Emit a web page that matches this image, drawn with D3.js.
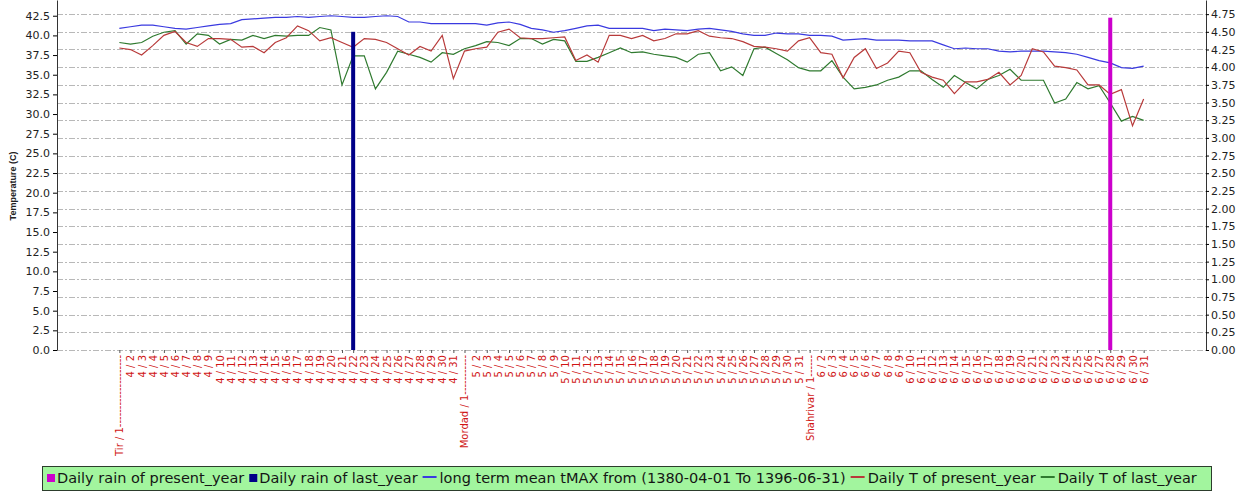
<!DOCTYPE html>
<html>
<head>
<meta charset="utf-8">
<script src="https://cdn.jsdelivr.net/npm/d3@7/dist/d3.min.js"></script>
<style>
body { margin: 0; background: #fff; }
svg { display: block; font-family: "DejaVu Sans", sans-serif; }
</style>
</head>
<body>
<div id="chart"></div>
<script>
// Categories: days of Tir, Mordad, Shahrivar
var dates = [
    "Tir / 1", "4 / 2", "4 / 3", "4 / 4", "4 / 5", "4 / 6", "4 / 7", "4 / 8", "4 / 9", "4 / 10",
    "4 / 11", "4 / 12", "4 / 13", "4 / 14", "4 / 15", "4 / 16", "4 / 17", "4 / 18", "4 / 19", "4 / 20",
    "4 / 21", "4 / 22", "4 / 23", "4 / 24", "4 / 25", "4 / 26", "4 / 27", "4 / 28", "4 / 29", "4 / 30", "4 / 31",
    "Mordad / 1", "5 / 2", "5 / 3", "5 / 4", "5 / 5", "5 / 6", "5 / 7", "5 / 8", "5 / 9", "5 / 10",
    "5 / 11", "5 / 12", "5 / 13", "5 / 14", "5 / 15", "5 / 16", "5 / 17", "5 / 18", "5 / 19", "5 / 20",
    "5 / 21", "5 / 22", "5 / 23", "5 / 24", "5 / 25", "5 / 26", "5 / 27", "5 / 28", "5 / 29", "5 / 30", "5 / 31",
    "Shahrivar / 1", "6 / 2", "6 / 3", "6 / 4", "6 / 5", "6 / 6", "6 / 7", "6 / 8", "6 / 9", "6 / 10",
    "6 / 11", "6 / 12", "6 / 13", "6 / 14", "6 / 15", "6 / 16", "6 / 17", "6 / 18", "6 / 19", "6 / 20",
    "6 / 21", "6 / 22", "6 / 23", "6 / 24", "6 / 25", "6 / 26", "6 / 27", "6 / 28", "6 / 29", "6 / 30", "6 / 31"
];

// dashes that trail the month-start labels
var monthDashes = { "Tir / 1": 20, "Mordad / 1": 11, "Shahrivar / 1": 6 };

// long term mean tMAX (1380-04-01 To 1396-06-31)
var longTermMax = [
    40.9, 41.1, 41.3, 41.3, 41.1, 40.9, 40.8, 41.0, 41.2, 41.4, 41.5, 42.0, 42.1, 42.2, 42.3, 42.3,
    42.4, 42.3, 42.4, 42.5, 42.4, 42.3, 42.3, 42.4, 42.5, 42.4, 41.7, 41.7, 41.5, 41.5, 41.5,
    41.5, 41.5, 41.3, 41.6, 41.7, 41.4, 40.9, 40.7, 40.4, 40.6, 40.9, 41.2, 41.3, 40.9, 40.9,
    40.9, 40.9, 40.6, 40.8, 40.7, 40.6, 40.8, 40.9, 40.7, 40.5, 40.2, 40.0, 40.0, 40.3, 40.2,
    40.2, 40.0, 40.0, 39.9, 39.4, 39.5, 39.6, 39.4, 39.4, 39.4, 39.3, 39.3, 39.3, 38.8, 38.3,
    38.4, 38.3, 38.3, 38.0, 37.9, 38.0, 38.0, 38.0, 37.9, 37.8, 37.6, 37.2, 36.8, 36.5, 35.9, 35.8, 36.1
];

// Daily T of present_year
var tPresent = [
    38.4, 38.2, 37.5, 38.7, 40.0, 40.5, 39.1, 38.6, 39.6, 39.6, 39.5, 38.5, 38.6, 37.8, 39.1, 39.7,
    41.2, 40.6, 39.3, 39.7, 39.1, 38.5, 39.6, 39.5, 39.1, 38.3, 37.5, 38.6, 38.0, 40.0, 34.5,
    38.0, 38.3, 38.5, 40.4, 40.8, 39.7, 39.6, 39.6, 39.7, 39.8, 36.8, 37.5, 36.6, 40.0, 40.0,
    39.6, 40.0, 39.3, 39.6, 40.2, 40.2, 40.6, 39.9, 39.7, 39.6, 39.2, 38.6, 38.5, 38.3, 38.0,
    39.3, 39.7, 37.8, 37.6, 34.6, 37.2, 38.3, 35.8, 36.5, 38.0, 37.8, 35.3, 34.7, 34.3, 32.6,
    34.1, 34.1, 34.4, 35.3, 33.7, 34.9, 38.3, 37.9, 36.1, 35.9, 35.6, 33.7, 33.7, 32.5, 33.1, 28.5, 31.9
];

// Daily T of last_year
var tLast = [
    39.1, 38.9, 39.1, 39.9, 40.4, 40.6, 38.9, 40.2, 40.0, 38.9, 39.5, 39.4, 40.0, 39.6, 40.0, 39.9,
    40.0, 40.0, 41.0, 40.7, 33.7, 37.4, 37.4, 33.2, 35.3, 38.0, 37.6, 37.2, 36.6, 37.8, 37.6,
    38.3, 38.7, 39.2, 39.1, 38.7, 39.6, 39.6, 38.9, 39.5, 39.3, 36.7, 36.7, 37.2, 37.8, 38.4,
    37.8, 37.9, 37.6, 37.4, 37.2, 36.6, 37.6, 37.8, 35.5, 36.0, 34.9, 38.3, 38.5, 37.7, 36.9,
    35.9, 35.5, 35.5, 36.8, 34.7, 33.2, 33.4, 33.7, 34.3, 34.7, 35.5, 35.5, 34.4, 33.4, 34.9,
    34.0, 33.2, 34.4, 34.9, 35.7, 34.3, 34.3, 34.3, 31.4, 31.9, 34.0, 33.2, 33.6, 31.4, 29.1, 29.7, 29.2
];

// Rain: only the days that had any
var rainPresentDays = ["6 / 28"];
var rainPresent = [4.7];
var rainLastDays = ["4 / 22"];
var rainLast = [4.5];

var tempTicks = [0, 2.5, 5, 7.5, 10, 12.5, 15, 17.5, 20, 22.5, 25, 27.5, 30, 32.5, 35, 37.5, 40, 42.5];
var rainTicks = [0, 0.25, 0.5, 0.75, 1, 1.25, 1.5, 1.75, 2, 2.25, 2.5, 2.75, 3, 3.25, 3.5, 3.75, 4, 4.25, 4.5, 4.75];

var legendLabels = [
    "Daily rain of present_year",
    "Daily rain of last_year",
    "long term mean tMAX from (1380-04-01 To 1396-06-31)",
    "Daily T of present_year",
    "Daily T of last_year"
];
var legendKinds = ["box", "box", "line", "line", "line"];
var colors = ["#cc00cc", "#000088", "#3a3ae0", "#b83a3a", "#2f7a2f"];

var width = 1249;
var height = 492;
var plotLeft = 57, plotRight = 1206, plotTop = 0, plotBottom = 350;

var svg = d3.select("#chart").append("svg")
    .attr("width", width)
    .attr("height", height);

var x = d3.scalePoint()
    .domain(dates)
    .range([plotLeft, plotRight])
    .padding(5.6);

var yT = d3.scaleLinear().domain([0, 44.5]).range([plotBottom, plotTop]);
var yR = d3.scaleLinear().domain([0, 4.95]).range([plotBottom, plotTop]);

// grid lines follow the right (rain) axis
svg.append("g")
    .attr("class", "grid")
    .selectAll("line")
    .data(rainTicks)
  .enter().append("line")
    .attr("x1", plotLeft)
    .attr("x2", plotRight)
    .attr("y1", function(d) { return Math.round(yR(d)) + 0.5; })
    .attr("y2", function(d) { return Math.round(yR(d)) + 0.5; })
    .style("stroke", "#b8b8b8")
    .style("stroke-width", 1)
    .style("stroke-dasharray", "6,2,2,2");

// x axis (no domain line, only ticks and rotated labels)
var xAxis = svg.append("g")
    .attr("transform", "translate(0," + plotBottom + ")")
    .call(d3.axisBottom(x).tickSize(3).tickSizeOuter(0)
        .tickFormat(function(d) {
            if (monthDashes[d]) return d + "-".repeat(monthDashes[d]);
            return d;
        }));
xAxis.select(".domain").remove();
xAxis.selectAll(".tick line").style("stroke", "#555");
xAxis.selectAll("text")
    .attr("transform", "rotate(-90)")
    .attr("text-anchor", "end")
    .attr("x", -5)
    .attr("y", 0)
    .attr("dy", ".35em")
    .style("font-size", "10px")
    .style("font-family", "'DejaVu Sans', sans-serif")
    .style("fill", "#d01515");

// left axis - temperature
var leftAxis = svg.append("g")
    .attr("transform", "translate(" + plotLeft + ",0)")
    .call(d3.axisLeft(yT).tickValues(tempTicks).tickFormat(d3.format(".1f"))
        .tickSize(4).tickSizeOuter(0).tickPadding(3));
leftAxis.selectAll("text")
    .style("font-size", "11px")
    .style("font-family", "'DejaVu Sans', sans-serif")
    .style("fill", "#222");
leftAxis.select(".domain").style("stroke", "#333");

// right axis - rain
var rightAxis = svg.append("g")
    .attr("transform", "translate(" + plotRight + ",0)")
    .call(d3.axisRight(yR).tickValues(rainTicks).tickFormat(d3.format(".2f"))
        .tickSize(3).tickSizeOuter(0).tickPadding(2));
rightAxis.selectAll("text")
    .style("font-size", "11px")
    .style("font-family", "'DejaVu Sans', sans-serif")
    .style("fill", "#222");
rightAxis.select(".domain").style("stroke", "#333");

svg.append("text")
    .attr("transform", "translate(16," + 186 + ") rotate(-90)")
    .attr("text-anchor", "middle")
    .style("font-family", "'Liberation Sans', sans-serif")
    .style("font-weight", "bold")
    .style("font-size", "9px")
    .style("fill", "#222")
    .text("Temperature (C)");

// temperature lines
var line = d3.line()
    .x(function(d, i) { return x(dates[i]); })
    .y(function(d) { return yT(d); });

var series = [
    { values: longTermMax, color: colors[2] },
    { values: tLast, color: colors[4] },
    { values: tPresent, color: colors[3] }
];

svg.selectAll(".tline")
    .data(series)
  .enter().append("path")
    .attr("class", "tline")
    .attr("d", function(d) { return line(d.values); })
    .style("fill", "none")
    .style("stroke", function(d) { return d.color; })
    .style("stroke-width", 1.2);

// rain bars, drawn on top of the lines
function rainBars(days, values, color) {
    svg.append("g").selectAll("rect")
        .data(values)
      .enter().append("rect")
        .attr("x", function(d, i) { return x(days[i]) - 2; })
        .attr("y", function(d) { return yR(d); })
        .attr("width", 4)
        .attr("height", function(d) { return yR(0) - yR(d); })
        .style("fill", color);
}
rainBars(rainLastDays, rainLast, colors[1]);
rainBars(rainPresentDays, rainPresent, colors[0]);

// legend
var legendLeft = 42, legendRight = 1211, legendTop = 466, legendH = 24;
var legend = svg.append("g");
legend.append("rect")
    .attr("x", legendLeft + 0.5)
    .attr("y", legendTop + 0.5)
    .attr("width", legendRight - legendLeft)
    .attr("height", legendH)
    .style("fill", "#a2f59e")
    .style("stroke", "#2c3d2c");

var items = legend.selectAll(".item")
    .data(legendLabels)
  .enter().append("g")
    .attr("class", "item");

items.each(function(d, i) {
    var g = d3.select(this);
    if (legendKinds[i] == "box") {
        g.append("rect")
            .attr("x", 0).attr("y", -4)
            .attr("width", 8).attr("height", 8)
            .style("fill", colors[i]);
    } else {
        g.append("line")
            .attr("x1", 0).attr("x2", 14)
            .attr("y1", -1).attr("y2", -1)
            .style("stroke", colors[i])
            .style("stroke-width", 2);
    }
    g.append("text")
        .attr("x", legendKinds[i] == "box" ? 10 : 17)
        .attr("dy", ".35em")
        .style("fill", "#151515")
        .text(d);
});

// fit the legend text into the box
function placeLegend(fontSize) {
    items.selectAll("text").style("font-size", fontSize + "px");
    var pos = 0;
    var gap = 5;
    items.each(function(d, i) {
        var g = d3.select(this);
        g.attr("transform", "translate(" + (legendLeft + 5 + pos) + "," + (legendTop + 12) + ")");
        var t = g.select("text");
        pos += +t.attr("x") + t.node().getComputedTextLength() + gap;
    });
    return pos - gap;
}
var natural = placeLegend(13);
placeLegend(13 * (legendRight - legendLeft - 8) / natural);
</script>
</body>
</html>
